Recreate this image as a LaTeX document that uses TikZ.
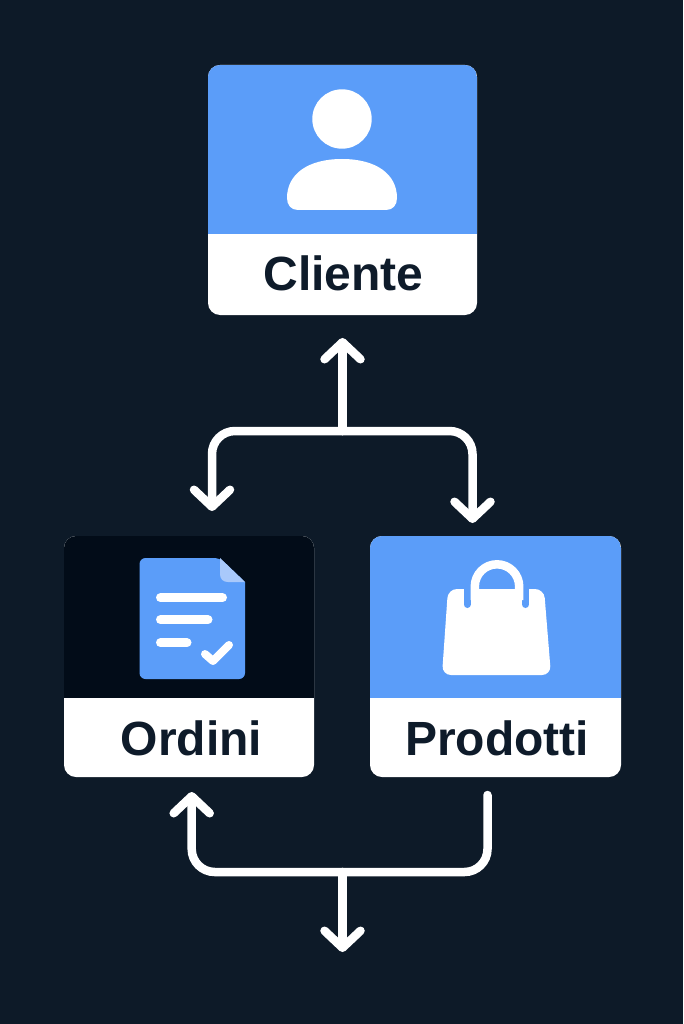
\documentclass[tikz,border=0pt]{standalone}
\usepackage{fontspec}
\setmainfont{Liberation Sans}
\usetikzlibrary{arrows.meta}
\definecolor{night}{HTML}{0D1A28}
\definecolor{ink}{HTML}{0E1B2A}
\definecolor{sky}{HTML}{5B9DF9}
\definecolor{pitch}{HTML}{020C18}
\definecolor{foldsky}{HTML}{A9C9FB}
\tikzset{
	cardbox/.style 2 args = {rounded corners=12pt, fill=white, inner sep=0pt, outer sep=0pt,
		path picture={\fill[#1, sharp corners] (path picture bounding box.north west) rectangle ([yshift=#2]path picture bounding box.south east);}},
	caption/.style = {anchor=base, inner sep=0pt, text=ink, font=\fontsize{48}{48}\selectfont\bfseries},
	link/.style = {draw=white, line width=8.5pt, line cap=round, rounded corners=23pt},
	tiplink/.style = {link, -{Straight Barb[length=17pt, width=36pt, round]}},
	docline/.style = {draw=white, line width=9pt, line cap=round},
	slit/.style = {draw=sky, line width=7pt, line cap=round}
}
\begin{document}
\begin{tikzpicture}[x=1pt, y=-1pt]
	\fill[night, use as bounding box] (0,0) rectangle (683,1024);

	% cards
	\node [cardbox={sky}{81pt}, minimum width=269pt, minimum height=250pt] (cliente) at (342.5,190) {};
	\node [cardbox={pitch}{79pt}, minimum width=250pt, minimum height=241pt] (ordini) at (189,656.5) {};
	\node [cardbox={sky}{79pt}, minimum width=251pt, minimum height=241pt] (prodotti) at (495.5,656.5) {};

	\node [caption] (clientetext) at ([xshift=1pt, yshift=25pt]cliente.south) {Cliente};
	\node [caption] (ordinitext) at ([xshift=2.5pt, yshift=22pt]ordini.south) {Ordini};
	\node [caption] (prodottitext) at ([xshift=1.5pt, yshift=22pt]prodotti.south) {Prodotti};

	% person
	\fill[white] (342,119) circle (29.7pt);
	\fill[white] (298,210) -- (386,210) .. controls (393,210) and (397,205) .. (397,198)
		.. controls (397,174) and (376,159) .. (342,159)
		.. controls (308,159) and (287,174) .. (287,198)
		.. controls (287,205) and (291,210) .. (298,210) -- cycle;

	% document
	\fill[sky, rounded corners=6pt] (139.5,558) -- (220,558) [sharp corners] -- (245,582) [rounded corners=6pt] -- (245,679) -- (139.5,679) -- cycle;
	\fill[foldsky] (220,558) -- (245,582) -- (228,582) .. controls (223,582) and (220,579) .. (220,574) -- cycle;
	\draw[docline] (160.5,597.7) -- (222.5,597.7);
	\draw[docline] (160.5,619.7) -- (208,619.7);
	\draw[docline] (160.5,642.7) -- (187,642.7);
	\draw[white, line width=8pt, line cap=round, line join=round] (205,654) -- (213,661) -- (229,645);

	% bag
	\fill[white, rounded corners=9pt] (448,589) -- (544,589) -- (551,675) -- (442,675) -- cycle;
	\draw[slit] (467,589) -- (467,604.5);
	\draw[slit] (525.5,589) -- (525.5,604.5);
	\draw[white, line width=8.5pt] (474.8,600) -- (474.8,586.5) arc[start angle=180, end angle=0, radius=22.2pt] -- (519.2,600);

	% connectors
	\coordinate (hubtop) at (342.5,431);
	\coordinate (hubbottom) at (342.5,872);
	\coordinate (exit) at (342.5,952);
	\draw[tiplink] (hubtop) -- ([yshift=-23pt]cliente.south);
	\draw[tiplink] (hubtop) -| ([xshift=23pt, yshift=25pt]ordini.north);
	\draw[tiplink] (hubtop) -| ([xshift=-23pt, yshift=13pt]prodotti.north);
	\draw[link] ([xshift=-8pt, yshift=-18pt]prodotti.south) |- (hubbottom);
	\draw[tiplink] (hubbottom) -| ([xshift=2.7pt, yshift=-15pt]ordini.south);
	\draw[tiplink] (hubbottom) -- (exit);
\end{tikzpicture}
\end{document}
